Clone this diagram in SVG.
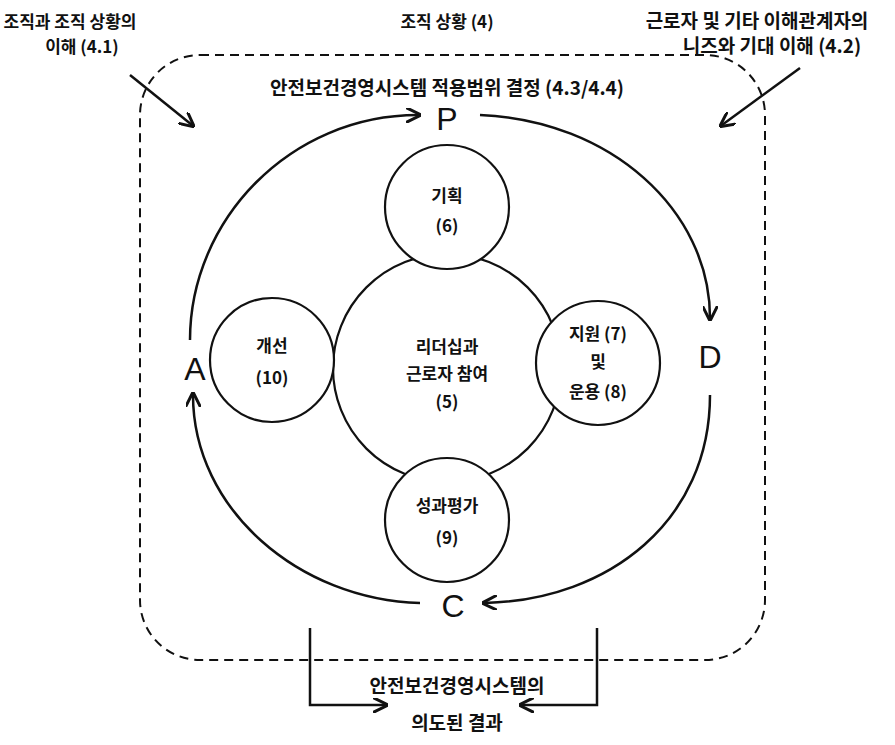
<svg xmlns="http://www.w3.org/2000/svg" width="895" height="745" viewBox="0 0 895 745">
<style>
text{font-family:"Noto Sans CJK KR","Noto Sans",sans-serif;font-size:17px;font-weight:bold;fill:#111;text-anchor:middle}
.w{font-size:19px}
.big{font-family:"Liberation Sans",sans-serif;font-size:32px;font-weight:normal}
circle{fill:#fff;stroke:#111;stroke-width:2.2}
.c{fill:none;stroke:#111;stroke-width:2.5}
</style>
<defs><marker id="ah" viewBox="0 0 10 10" refX="8" refY="5" markerWidth="6" markerHeight="6" orient="auto"><path d="M0,0 L10,5 L0,10" fill="none" stroke="#111" stroke-width="2"/></marker></defs>
<rect width="895" height="745" fill="#fff"/>
<rect x="140" y="55" width="625" height="605" rx="60" fill="none" stroke="#111" stroke-width="2" stroke-dasharray="9,6"/>
<g id="texts">
<text x="70" y="28">조직과 조직 상황의</text><text x="82" y="53">이해 (4.1)</text>
<text x="447" y="28">조직 상황 (4)</text>
<text class="w" x="757" y="28">근로자 및 기타 이해관계자의</text><text class="w" x="772" y="53">니즈와 기대 이해 (4.2)</text>
<text class="w" x="447" y="95">안전보건경영시스템 적용범위 결정 (4.3/4.4)</text>
<text class="w" x="457" y="693">안전보건경영시스템의</text><text class="w" x="457" y="730">의도된 결과</text>
</g>
<g id="connectors">
<path class="c" d="M190,340 C190,220 290,115 418,115" marker-end="url(#ah)"/>
<path class="c" d="M480,115 C610,120 710,210 710,318" marker-end="url(#ah)"/>
<path class="c" d="M710,395 C710,520 610,600 485,603" marker-end="url(#ah)"/>
<path class="c" d="M420,603 C300,600 193,510 193,395" marker-end="url(#ah)"/>
<path class="c" d="M130,75 L192,125" marker-end="url(#ah)"/>
<path class="c" d="M800,68 L722,125" marker-end="url(#ah)"/>
<path class="c" d="M310,628 L310,705 L385,705" marker-end="url(#ah)"/>
<path class="c" d="M597,628 L597,705 L522,705" marker-end="url(#ah)"/>
</g>
<g id="P"><text class="big" x="447" y="130">P</text></g>
<g id="D"><text class="big" x="710" y="368">D</text></g>
<g id="C"><text class="big" x="453" y="617">C</text></g>
<g id="A"><text class="big" x="195" y="380">A</text></g>
<g id="center"><circle cx="447" cy="368" r="114"/><text x="447" y="353">리더십과</text><text x="447" y="380">근로자 참여</text><text x="447" y="408">(5)</text></g>
<g id="plan"><circle cx="447" cy="207" r="62"/><text x="447" y="202">기획</text><text x="447" y="232">(6)</text></g>
<g id="improve"><circle cx="272" cy="360" r="62"/><text x="272" y="352">개선</text><text x="272" y="384">(10)</text></g>
<g id="support"><circle cx="598" cy="363" r="62"/><text x="598" y="340">지원 (7)</text><text x="598" y="368">및</text><text x="598" y="398">운용 (8)</text></g>
<g id="eval"><circle cx="447" cy="520" r="62"/><text x="447" y="512">성과평가</text><text x="447" y="544">(9)</text></g>
</svg>
